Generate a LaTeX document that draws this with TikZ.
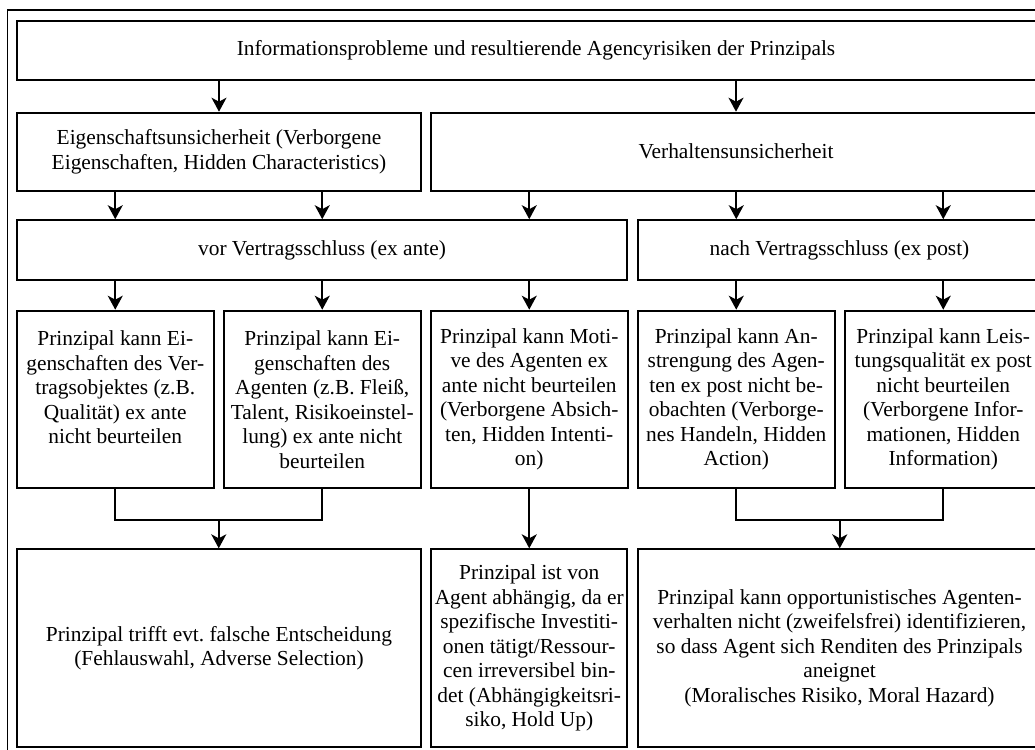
\documentclass[tikz,border=0pt]{standalone}
\usepackage{fontspec}
\setmainfont{Liberation Serif}
\usetikzlibrary{arrows.meta,calc}
\frenchspacing

\begin{document}
\begin{tikzpicture}[x=1pt, y=-1pt,
		box/.style={draw=black, line width=2pt, align=center, inner sep=0pt, font=\fontsize{21.4}{24.5}\selectfont},
		spalte/.style={box, minimum width=196.5pt, minimum height=177.6pt},
		ergebnis/.style={box, minimum height=197.4pt},
		pfeil/.style={-{Stealth[length=14pt, width=15pt, inset=4pt]}, line width=2pt},
		linie/.style={line width=2pt}
	]
	\useasboundingbox (0,0) rectangle (1035,749);
	\clip (0,0) rectangle (1035,749);
	% Rahmen
	\draw[line width=1.5pt] (7.5,10) rectangle (1066,758);

	% Ebene 1: Informationsprobleme
	\node[box, minimum width=1038pt, minimum height=59.3pt] (info) at (536,50.4)
		{Informationsprobleme und resultierende Agencyrisiken der Prinzipals};

	% Ebene 2: Unsicherheiten
	\node[box, minimum width=404pt, minimum height=78pt] (eig) at (219,151.7)
		{Eigenschaftsunsicherheit (Verborgene\\Eigenschaften, Hidden Characteristics)};
	\node[box, minimum width=610pt, minimum height=78pt] (verh) at (736,151.7)
		{Verhaltensunsicherheit};

	% Ebene 3: Zeitpunkt
	\node[box, minimum width=610pt, minimum height=60pt] (vor) at (322,250.2)
		{vor Vertragsschluss (ex ante)};
	\node[box, minimum width=403pt, minimum height=60pt] (nach) at (839.5,250.2)
		{nach Vertragsschluss (ex post)};

	% Ebene 4: Informationsasymmetrien
	\node[spalte] (e1) at (115.25,399.5) {Prinzipal kann Ei-\\genschaften des Ver-\\tragsobjektes (z.B.\\Qualität) ex ante\\nicht beurteilen\\ \mbox{}};
	\node[spalte] (e2) at (322.25,399.5) {Prinzipal kann Ei-\\genschaften des\\Agenten (z.B. Fleiß,\\Talent, Risikoeinstel-\\lung) ex ante nicht\\beurteilen};
	\node[spalte] (e3) at (529.25,399.5) {Prinzipal kann Moti-\\ve des Agenten ex\\ante nicht beurteilen\\(Verborgene Absich-\\ten, Hidden Intenti-\\on)};
	\node[spalte] (e4) at (736.25,399.5) {Prinzipal kann An-\\strengung des Agen-\\ten ex post nicht be-\\obachten (Verborge-\\nes Handeln, Hidden\\Action)};
	\node[spalte] (e5) at (943.25,399.5) {Prinzipal kann Leis-\\tungsqualität ex post\\nicht beurteilen\\(Verborgene Infor-\\mationen, Hidden\\Information)};

	% Ebene 5: Agencyrisiken
	\node[ergebnis, minimum width=404pt] (fehl) at (219,648)
		{Prinzipal trifft evt. falsche Entscheidung\\(Fehlauswahl, Adverse Selection)};
	\node[ergebnis, minimum width=196pt] (hold) at (529.25,648)
		{Prinzipal ist von\\Agent abhängig, da er\\spezifische Investiti-\\onen tätigt/Ressour-\\cen irreversibel bin-\\det (Abhängigkeitsri-\\siko, Hold Up)};
	\node[ergebnis, minimum width=403pt] (moral) at (839.5,648)
		{Prinzipal kann opportunistisches Agenten-\\verhalten nicht (zweifelsfrei) identifizieren,\\so dass Agent sich Renditen des Prinzipals\\aneignet\\(Moralisches Risiko, Moral Hazard)};

	% Pfeile
	\foreach \k in {eig,verh} \draw[pfeil] (\k.north |- info.south) -- (\k.north);
	\foreach \k in {e1,e2} \draw[pfeil] (\k.north |- eig.south) -- (\k.north |- vor.north);
	\draw[pfeil] (e3.north |- verh.south) -- (e3.north |- vor.north);
	\foreach \k in {e4,e5} \draw[pfeil] (\k.north |- verh.south) -- (\k.north |- nach.north);
	\foreach \k in {e1,e2,e3} \draw[pfeil] (\k.north |- vor.south) -- (\k.north);
	\foreach \k in {e4,e5} \draw[pfeil] (\k.north |- nach.south) -- (\k.north);

	% Zusammenfuehrung
	\coordinate (m1) at ($(e1.south)!.5!(e2.south)+(0,31)$);
	\coordinate (m2) at ($(e4.south)!.5!(e5.south)+(0,31)$);
	\draw[linie] (e1.south) |- (m1) -| (e2.south);
	\draw[linie] (e4.south) |- (m2) -| (e5.south);
	\draw[pfeil] (m1) -- (m1 |- fehl.north);
	\draw[pfeil] (e3.south) -- (e3.south |- hold.north);
	\draw[pfeil] (m2) -- (m2 |- moral.north);
\end{tikzpicture}
\end{document}
